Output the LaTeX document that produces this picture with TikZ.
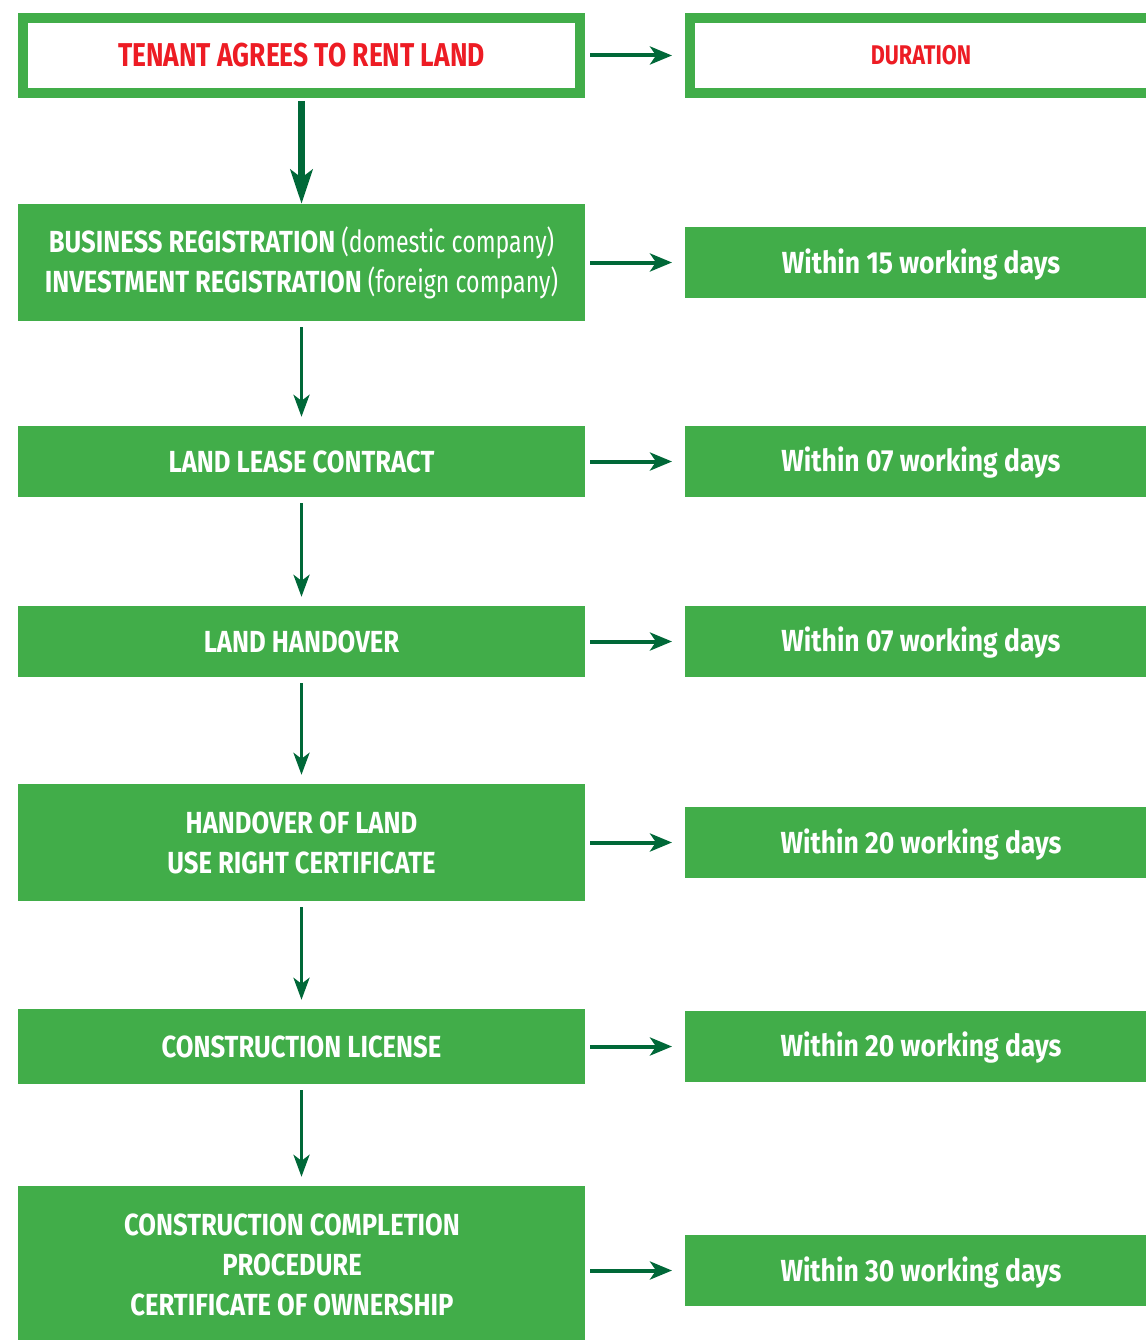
\documentclass[tikz,border=0pt]{standalone}
\usepackage{fontspec}
\setmainfont[FakeStretch=0.84]{Fira Sans}
\newfontfamily\narrowfont[FakeStretch=0.8]{Fira Sans}
\newfontfamily\parenfont[FakeStretch=0.76]{Fira Sans}
\newfontfamily\widefont[FakeStretch=0.87]{Fira Sans}
\usetikzlibrary{arrows.meta}
\definecolor{boxgreen}{HTML}{41AD49}
\definecolor{arrowgreen}{HTML}{006838}
\definecolor{titlered}{HTML}{ED1C24}
\tikzset{
  fillbox/.style={fill=boxgreen, draw=none, inner sep=0pt, text=white, align=center,
    font=\fontsize{30.5}{40}\selectfont\bfseries},
  framebox/.style={draw=boxgreen, line width=10pt, fill=white, inner sep=0pt, text=titlered, align=center},
  harrow/.style={draw=arrowgreen, line width=4pt,
    -{Stealth[length=22pt,width=18pt,inset=6pt]}, shorten <=5pt, shorten >=13pt},
  varrow/.style={draw=arrowgreen, line width=3.5pt,
    -{Stealth[length=22pt,width=16pt,inset=6pt]}, shorten <=6pt, shorten >=9pt},
  bigarrow/.style={draw=arrowgreen, line width=7pt,
    -{Stealth[length=34pt,width=22pt,inset=8pt]}, shorten <=3pt},
  lbl/.style={text=white, align=center, inner sep=0pt, font=\fontsize{30.5}{40}\selectfont\bfseries},
  daylbl/.style={text=white, align=center, inner sep=0pt, font=\widefont\fontsize{30.5}{40}\selectfont\bfseries}
}
\begin{document}
\begin{tikzpicture}[x=1pt,y=-1pt]
\useasboundingbox (0,0) rectangle (1145,1340);
% top row
\node[framebox, minimum width=557pt, minimum height=75pt, font=\narrowfont\fontsize{33}{40}\selectfont\bfseries]
  (tenant) at (301.5,55.5) {TENANT AGREES TO RENT LAND};
\node[framebox, minimum width=465pt, minimum height=75pt, anchor=west]
  (duration) at (685,55.5) {};
\node[text=titlered, inner sep=0pt, font=\narrowfont\fontsize{27}{40}\selectfont\bfseries] (durtxt) at (921,55) {DURATION};
% left column
\node[fillbox, minimum width=567pt, minimum height=117pt] (busreg) at (301.5,262.5)
  {BUSINESS REGISTRATION {\parenfont\mdseries(domestic company)}\\INVESTMENT REGISTRATION {\parenfont\mdseries(foreign company)}};
\node[fillbox, minimum width=567pt, minimum height=71pt] (lease) at (301.5,461.5) {LAND LEASE CONTRACT};
\node[fillbox, minimum width=567pt, minimum height=71pt] (handover) at (301.5,641.5) {LAND HANDOVER};
\node[fillbox, minimum width=567pt, minimum height=117pt] (lurc) at (301.5,842.5) {HANDOVER OF LAND\\USE RIGHT CERTIFICATE};
\node[fillbox, minimum width=567pt, minimum height=75pt] (license) at (301.5,1046.5) {CONSTRUCTION LICENSE};
\node[fillbox, minimum width=567pt, minimum height=154pt] (completion) at (301.5,1263) {};
\node[lbl] (completiontxt) at (292,1265) {CONSTRUCTION COMPLETION\\PROCEDURE\\CERTIFICATE OF OWNERSHIP};
% right column
\node[fillbox, minimum width=470pt, minimum height=71pt, anchor=west] (d1) at (685,262.5) {};
\node[daylbl] at (921,265) {Within 15 working days};
\node[fillbox, minimum width=470pt, minimum height=71pt, anchor=west] (d2) at (685,461.5) {};
\node[daylbl] at (921,463) {Within 07 working days};
\node[fillbox, minimum width=470pt, minimum height=71pt, anchor=west] (d3) at (685,641.5) {};
\node[daylbl] at (921,643) {Within 07 working days};
\node[fillbox, minimum width=470pt, minimum height=71pt, anchor=west] (d4) at (685,842.5) {};
\node[daylbl] at (921,845) {Within 20 working days};
\node[fillbox, minimum width=470pt, minimum height=71pt, anchor=west] (d5) at (685,1046.5) {};
\node[daylbl] at (921,1048) {Within 20 working days};
\node[fillbox, minimum width=470pt, minimum height=71pt, anchor=west] (d6) at (685,1270.5) {};
\node[daylbl] at (921,1273) {Within 30 working days};
% vertical arrows
\draw[bigarrow] (tenant.south) -- (busreg.north);
\draw[varrow] (busreg.south) -- (lease.north);
\draw[varrow] (lease.south) -- (handover.north);
\draw[varrow] (handover.south) -- (lurc.north);
\draw[varrow] (lurc.south) -- (license.north);
\draw[varrow] (license.south) -- (completion.north);
% horizontal arrows
\draw[harrow] (tenant.east) -- (duration.west);
\draw[harrow] (busreg.east) -- (d1.west);
\draw[harrow] (lease.east) -- (d2.west);
\draw[harrow] (handover.east) -- (d3.west);
\draw[harrow] (lurc.east) -- (d4.west);
\draw[harrow] (license.east) -- (d5.west);
\draw[harrow] (completion.east |- d6.west) -- (d6.west);
\end{tikzpicture}
\end{document}
